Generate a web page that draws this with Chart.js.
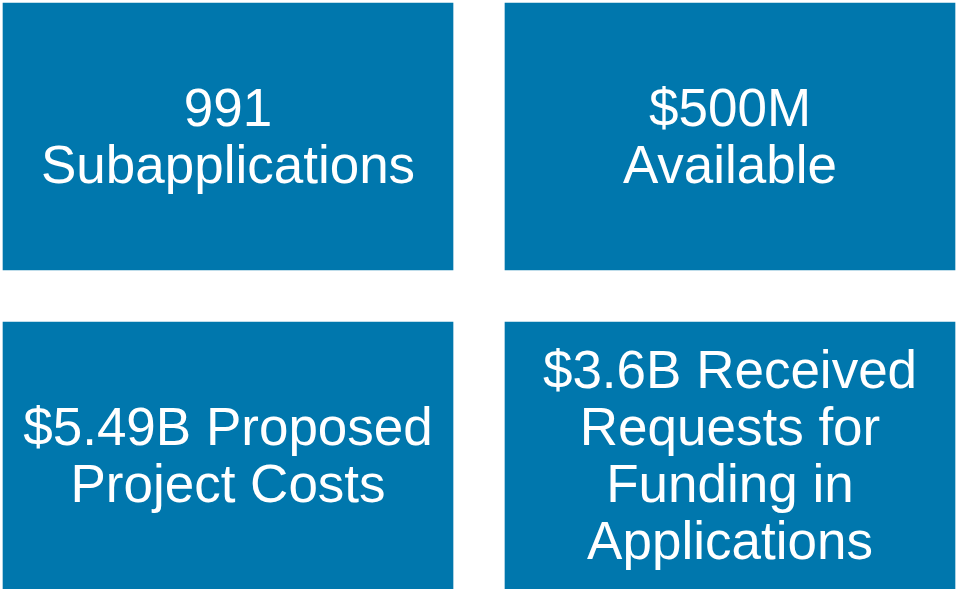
<!DOCTYPE html>
<html>
<head>
<meta charset="utf-8">
<script src="https://cdn.jsdelivr.net/npm/chart.js@4.4.0/dist/chart.umd.min.js"></script>
<style>
  html, body { margin: 0; padding: 0; background: #fff; }
  #wrap { width: 956px; height: 589px; }
</style>
</head>
<body>
<div id="wrap"><canvas id="tiles"></canvas></div>
<script>
// tile contents, read left-to-right, top-to-bottom
const tileLines = [
  ["991", "Subapplications"],
  ["$500M", "Available"],
  ["$5.49B Proposed", "Project Costs"],
  ["$3.6B Received", "Requests for", "Funding in", "Applications"]
];
const tileCols = [0, 1, 0, 1];
const tileRows = [0, 0, 1, 1];

const TILE_H = 0.837;   // tile height in row units
const tileColor = "#0077ad";

const tileData = tileCols.map((c, i) => ({
  x: c,
  y: [tileRows[i] - TILE_H / 2, tileRows[i] + TILE_H / 2]
}));

const tileText = {
  id: "tileText",
  afterDatasetsDraw(chart) {
    const ctx = chart.ctx;
    const meta = chart.getDatasetMeta(0);
    ctx.save();
    ctx.fillStyle = "#fff";
    ctx.font = "53px 'Liberation Sans', Arial, sans-serif";
    ctx.textAlign = "center";
    ctx.textBaseline = "middle";
    meta.data.forEach((bar, i) => {
      const lines = tileLines[i];
      const cy = (bar.y + bar.base) / 2 + 3;
      const lh = 57;
      lines.forEach((t, j) => {
        ctx.fillText(t, bar.x, cy + (j - (lines.length - 1) / 2) * lh);
      });
    });
    ctx.restore();
  }
};

new Chart(document.getElementById("tiles"), {
  type: "bar",
  data: {
    datasets: [{
      data: tileData,
      backgroundColor: tileColor,
      borderWidth: 0,
      barThickness: 450
    }]
  },
  options: {
    responsive: true,
    maintainAspectRatio: false,
    animation: false,
    layout: { padding: 0 },
    plugins: { legend: { display: false }, tooltip: { enabled: false } },
    scales: {
      x: { type: "linear", display: false, offset: false, min: -0.4542, max: 1.4502 },
      y: { type: "linear", display: false, reverse: true, min: -0.4279, max: 1.4185 }
    }
  },
  plugins: [tileText]
});
</script>
</body>
</html>
